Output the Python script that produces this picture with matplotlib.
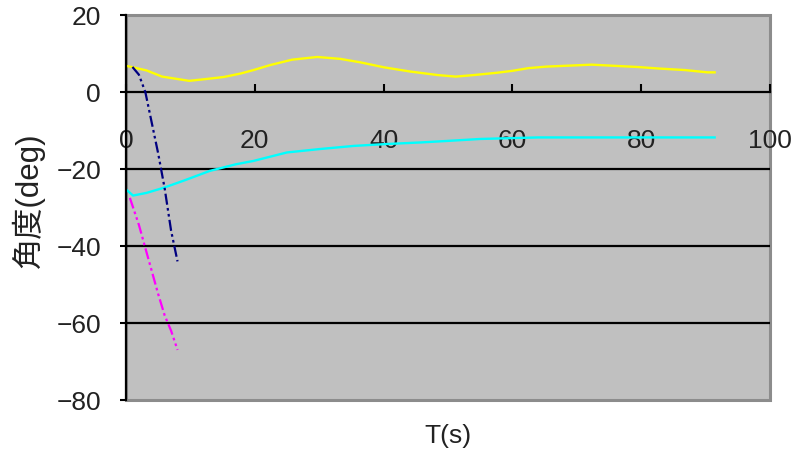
import matplotlib.pyplot as plt
from matplotlib.patches import Rectangle

# time axis (s) and angle traces (deg)
t_yellow = [0, 0.6, 3.2, 5.6, 9.8, 12.6, 15.2, 17.8, 19.8, 22.4, 25.8, 29.7, 33.3, 36.4,
            40.1, 44.2, 48.4, 51.2, 54, 57.6, 60, 62.5, 65.3, 72.3, 79.4, 82.7, 86.8, 90.3, 91.4]
ang_yellow = [6.8, 6.6, 5.6, 4.0, 2.9, 3.4, 3.9, 4.8, 5.7, 7.0, 8.4, 9.1, 8.6, 7.7,
              6.4, 5.3, 4.4, 4.0, 4.4, 5.0, 5.5, 6.2, 6.6, 7.1, 6.5, 6.1, 5.7, 5.1, 5.1]

t_cyan = [0, 1.1, 3.2, 5.8, 9, 13, 17, 19.8, 25, 30.2, 35.4, 40.6, 45.8, 50, 55, 64, 80, 91.4]
ang_cyan = [-25.3, -26.9, -26.2, -24.9, -23.0, -20.5, -18.8, -17.9, -15.7, -14.8, -14.0,
            -13.5, -13.1, -12.7, -12.2, -11.8, -11.8, -11.8]

t_navy = [1, 2, 3, 4, 5, 6, 7, 8]
ang_navy = [6.5, 4.5, 0.0, -8.0, -16.0, -25.0, -36.0, -44.0]

t_magenta = [0.6, 2, 3, 4, 5, 6, 7, 8]
ang_magenta = [-27.5, -34.5, -40.5, -46.5, -52.5, -58.0, -62.0, -67.0]

x_ticks = [0, 20, 40, 60, 80, 100]
y_ticks = [20, 0, -20, -40, -60, -80]
grid_levels = [-20, -40, -60]

num_font = "Liberation Sans"
text_col = "#222222"

fig = plt.figure(figsize=(7.95, 4.52), dpi=100)
ax = fig.add_axes([126 / 795, 1 - 401 / 452, (770 - 126) / 795, (401 - 16) / 452])
ax.set_facecolor("#C0C0C0")

for lv in grid_levels:
    ax.axhline(lv, color="black", lw=1.6, zorder=1)

dashdotdot = (0, (5, 1.5, 1.2, 1.5, 1.2, 1.5))
ax.plot(t_yellow, ang_yellow, color="#FFFF00", lw=1.7, zorder=3)
ax.plot(t_cyan, ang_cyan, color="#00FFFF", lw=1.7, zorder=3)
ax.plot(t_navy, ang_navy, color="#000080", lw=1.6, ls=dashdotdot, zorder=4)
ax.plot(t_magenta, ang_magenta, color="#FF00FF", lw=1.6, ls=dashdotdot, zorder=4)

ax.set_xlim(0, 100)
ax.set_ylim(-80, 20)

# x axis crosses at zero, ticks pointing up, labels well below it
ax.spines["bottom"].set_position(("data", 0))
ax.spines["bottom"].set_linewidth(1.6)
ax.spines["left"].set_linewidth(1.6)
ax.spines["top"].set_visible(False)
ax.spines["right"].set_visible(False)
ax.set_xticks(x_ticks)
ax.set_yticks(y_ticks)
ax.set_yticklabels([str(v).replace("-", "\u2212") for v in y_ticks])
ax.tick_params(axis="x", direction="in", length=6, width=1.5, pad=26, labelsize=19,
               labelcolor=text_col)
ax.tick_params(axis="y", direction="out", length=4, width=1.5, pad=14, labelsize=19,
               labelcolor=text_col)
for lab in ax.get_xticklabels() + ax.get_yticklabels():
    lab.set_fontfamily(num_font)

# plot-area frame (grey on top, right, bottom)
ax.add_patch(Rectangle((0, 0), 1, 1, transform=ax.transAxes, fill=False,
                       edgecolor="#8C8C8C", lw=2.2, zorder=0.5, clip_on=False))
ax.spines["left"].set_zorder(5)

ax.text(0.5, -35 / 385, "T(s)", transform=ax.transAxes, ha="center", va="center",
        fontsize=19, family=num_font, color=text_col)
fig.text(28 / 795, 1 - 200 / 452, "角度(deg)", rotation=90, ha="center", va="center",
         fontsize=22.5, family=[num_font, "Noto Sans CJK JP"], color=text_col)

fig.savefig("out.png", dpi=100)
